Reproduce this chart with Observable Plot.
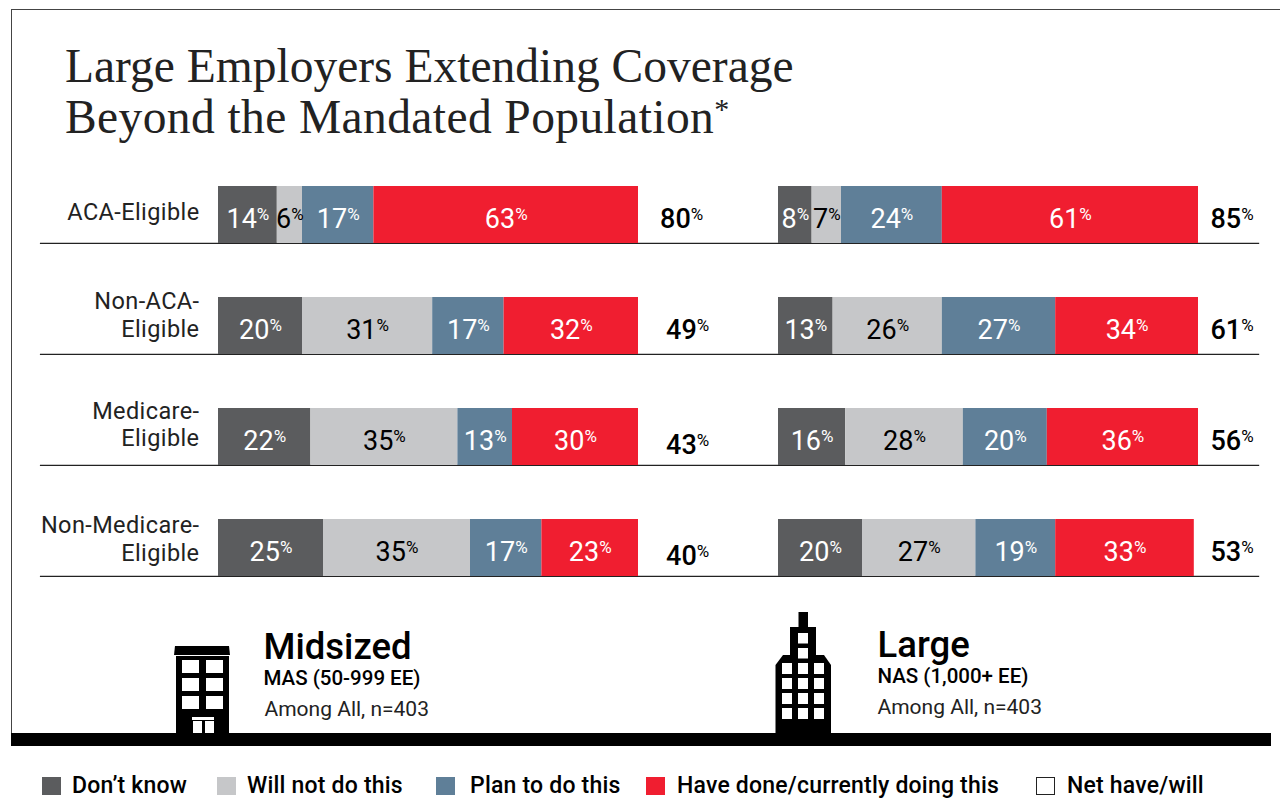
<!DOCTYPE html>
<html>
<head>
<meta charset="utf-8">
<script src="https://cdn.jsdelivr.net/npm/d3@7"></script>
<script src="https://cdn.jsdelivr.net/npm/@observablehq/plot@0.6"></script>
<style>
  html, body { margin: 0; padding: 0; background: #fff; }
  #page { position: relative; width: 1280px; height: 798px; overflow: hidden; font-family: Roboto, sans-serif; color: #000; }
  #frame { position: absolute; left: 11px; top: 9px; right: 0; height: 730px; border-left: 1px solid #444; border-top: 1px solid #444; }
  h1 { position: absolute; left: 65px; top: 41px; margin: 0; font: 400 47.5px/51px "Liberation Serif", serif; color: #222; }
  h1 .second { letter-spacing: 0.4px; }
  h1 sup { font-size: 30px; line-height: 0; vertical-align: 14px; }
  #chart { position: absolute; left: 0; top: 160px; }
  #legend { position: absolute; left: 0; top: 770px; width: 1280px; height: 28px; font-size: 23px; line-height: 25px; font-weight: 500; letter-spacing: 0.2px; }
  #legend i { position: absolute; top: 7px; width: 19px; height: 18px; box-sizing: border-box; }
  #legend span { position: absolute; top: 3px; white-space: nowrap; }
</style>
</head>
<body>
<div id="page">
  <div id="frame"></div>
  <h1>Large Employers Extending Coverage<br><span class="second">Beyond the Mandated Population<sup>*</sup></span></h1>
  <div id="chart"></div>
  <div id="legend"></div>
</div>
<script>
// Survey answers, in percent, by employer size and population group
const panels = ["Midsized", "Large"];
const rows = ["ACA-Eligible", "Non-ACA-\nEligible", "Medicare-\nEligible", "Non-Medicare-\nEligible"];
const statuses = ["Don’t know", "Will not do this", "Plan to do this", "Have done/currently doing this"];
const statusColors = ["#5b5c5e", "#c6c7c9", "#5f7f98", "#f01e30"];

const midsizedValues = [
  [14, 6, 17, 63],
  [20, 31, 17, 32],
  [22, 35, 13, 30],
  [25, 35, 17, 23]
];
const largeValues = [
  [8, 7, 24, 61],
  [13, 26, 27, 34],
  [16, 28, 20, 36],
  [20, 27, 19, 33]
];
const midsizedNet = [80, 49, 43, 40];
const largeNet = [85, 61, 56, 53];

const panelBases = ["MAS (50-999 EE)", "NAS (1,000+ EE)"];
const panelSamples = ["Among All, n=403", "Among All, n=403"];

// Long-form records for the stacked bars
const records = panels.flatMap((panel, p) =>
  (p === 0 ? midsizedValues : largeValues).flatMap((vals, r) =>
    vals.map((value, s) => ({panel, row: rows[r], status: statuses[s], value}))
  )
);

const chartTop = 160;

// Nudges for the net figures beside each bar
const netOffsets = [
  [[-6, 3], [0, 3], [0, 7], [0, 7]],
  [[0, 3], [0, 3], [0, 3], [0, 3]]
];
const netX = [111.7, 108];

// Vertical placement of the row names, relative to each bar's centre
const rowNameShift = [-4, 10.5, 9, 12.5];

// Appends a smaller, raised percent sign to each label
function withPercent(size, raise) {
  return (index, scales, values, dims, context, next) => {
    const g = next(index, scales, values, dims, context);
    d3.select(g).selectAll("text").each(function () {
      d3.select(this).append("tspan")
        .attr("font-size", size)
        .attr("font-weight", 400)
        .attr("dy", -raise)
        .text("%");
    });
    return g;
  };
}

// Building pictograms and the ground line, in page coordinates
function ground() {
  const g = d3.create("svg:g");
  const y = v => v - chartTop;
  const box = (x0, y0, x1, y1, fill) =>
    g.append("rect").attr("x", x0).attr("y", y(y0)).attr("width", x1 - x0).attr("height", y1 - y0).attr("fill", fill);

  box(11, 733, 1271, 746, "#000");

  // Midsized block
  g.append("path").attr("fill", "#000")
    .attr("d", `M175,${y(646)}H229L230,${y(655)}H174Z`);
  box(176, 656, 229, 733, "#000");
  for (const wy of [660, 678, 696]) {
    for (const wx of [182, 206]) box(wx, wy, wx + 17, wy + 13, "#fff");
  }
  box(192, 717, 214, 720, "#fff");
  box(193, 721, 202, 733, "#fff");
  box(205, 721, 214, 733, "#fff");

  // Large tower
  box(798.5, 612, 808, 628, "#000");
  box(790, 627, 816, 656, "#000");
  g.append("path").attr("fill", "#000")
    .attr("d", `M783,${y(655)}H824L831,${y(665)}V${y(733)}H775.5V${y(665)}Z`);
  for (const wy of [633, 648]) box(798, wy, 808, wy + 10.5, "#fff");
  for (const wy of [663, 678, 693, 708]) {
    for (const wx of [782, 798, 814]) box(wx, wy, wx + 10, wy + 11, "#fff");
  }
  return g.node();
}

const chart = Plot.plot({
  width: 1280,
  height: 590,
  marginTop: 0,
  marginBottom: 0,
  marginLeft: 218,
  marginRight: 82,
  style: {background: "transparent", fontFamily: "Roboto, sans-serif", overflow: "visible"},
  facet: {marginTop: 0, marginRight: 0, marginBottom: 0, marginLeft: 0},
  fx: {domain: panels, paddingInner: 0.25, paddingOuter: 0, axis: null},
  x: {domain: [0, 100], axis: null},
  y: {domain: rows, range: [25.6, 416.2], paddingInner: 0.49, paddingOuter: 0, axis: null},
  color: {domain: statuses, range: statusColors},
  marks: [
    // Baseline under each row, spanning both panels
    Plot.ruleY(rows, {
      y: d => d,
      x1: -42.4,
      x2: 247.9,
      fx: () => "Midsized",
      stroke: "#222",
      strokeWidth: 1.4,
      dy: 28.4
    }),
    Plot.barX(records, Plot.stackX({x: "value", y: "row", fx: "panel", fill: "status"})),
    Plot.text(records, Plot.stackX({
      x: "value",
      y: "row",
      fx: "panel",
      z: "status",
      text: d => String(d.value),
      fill: {value: d => d.status === statuses[1] ? "#000" : "#fff", scale: null},
      fontSize: 27,
      dy: 4,
      render: withPercent(17, 8)
    })),
    // Row names sit left of the Midsized bars
    ...rows.map((row, r) =>
      Plot.text([row], {
        y: d => d,
        fx: () => "Midsized",
        x: 0,
        text: d => d,
        textAnchor: "end",
        lineAnchor: r === 0 ? "middle" : "bottom",
        lineHeight: 1.15,
        dx: -19,
        dy: rowNameShift[r],
        fontSize: 23.5,
        fill: "#222",
        render: (index, scales, values, dims, context, next) => {
          const g = next(index, scales, values, dims, context);
          g.style.letterSpacing = "0.4px";
          return g;
        }
      })
    ),
    // Net have/will figures
    ...panels.flatMap((panel, p) => rows.map((row, r) =>
      Plot.text([(p === 0 ? midsizedNet : largeNet)[r]], {
        y: () => row,
        fx: () => panel,
        x: netX[p],
        text: d => String(d),
        fill: "#000",
        fontSize: 27,
        fontWeight: 500,
        dx: netOffsets[p][r][0],
        dy: netOffsets[p][r][1] + 1,
        render: withPercent(17, 8)
      })
    )),
    // Panel captions under the bars
    ...panels.flatMap((panel, p) => {
      const left = p === 0 ? 45 : 99;
      const rise = p === 0 ? 0 : 2;
      return [
        Plot.text([panel], {fx: d => d, text: d => d, frameAnchor: "top-left", dx: left, dy: 498 - rise, lineAnchor: "bottom", fontSize: 36.5, fontWeight: 500, textAnchor: "start", fill: "#000"}),
        Plot.text([panelBases[p]], {fx: () => panel, text: d => d, frameAnchor: "top-left", dx: left, dy: 524 - rise, lineAnchor: "bottom", fontSize: 20.5, fontWeight: 500, textAnchor: "start", fill: "#000"}),
        Plot.text([panelSamples[p]], {fx: () => panel, text: d => d, frameAnchor: "top-left", dx: left + (p === 0 ? 1 : 0), dy: 555 - rise, lineAnchor: "bottom", fontSize: 21, fontWeight: 400, textAnchor: "start", fill: "#222"})
      ];
    })
  ]
});
chart.append(ground());
document.getElementById("chart").append(chart);

// Legend row beneath the ground line
const legendLabels = [...statuses, "Net have/will"];
const legendSwatches = [...statusColors, "#fff"];
const legendSwatchX = [42, 217, 436, 646, 1036];
const legendTextX = [72, 247, 470, 677, 1067];
const legend = d3.select("#legend");
legendLabels.forEach((label, i) => {
  legend.append("i")
    .style("left", legendSwatchX[i] + "px")
    .style("background", legendSwatches[i])
    .style("border", i === 4 ? "1.5px solid #222" : "none");
  legend.append("span").style("left", legendTextX[i] + "px").text(label);
});
</script>
</body>
</html>
